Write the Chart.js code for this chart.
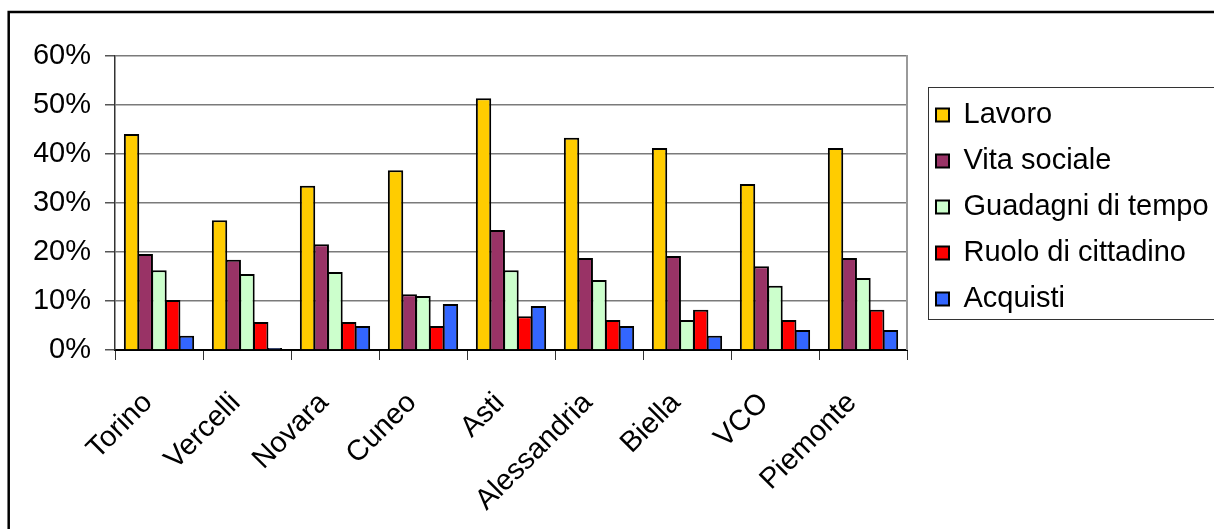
<!DOCTYPE html>
<html lang="it">
<head>
<meta charset="utf-8">
<title>Motivazioni per provincia</title>
<script src="https://cdn.jsdelivr.net/npm/chart.js@4/dist/chart.umd.min.js"></script>
<style>
  html, body { margin: 0; padding: 0; background: #ffffff; }
  #wrap { width: 1214px; height: 529px; }
</style>
</head>
<body>
<div id="wrap"><canvas id="chart" width="1214" height="529"></canvas></div>
<script>
// Province (and regional total) on the category axis
const categories = ['Torino', 'Vercelli', 'Novara', 'Cuneo', 'Asti', 'Alessandria', 'Biella', 'VCO', 'Piemonte'];

// Series names
const seriesNames = ['Lavoro', 'Vita sociale', 'Guadagni di tempo', 'Ruolo di cittadino', 'Acquisti'];

// Shares in percent, one array per series
const lavoro          = [44.1, 26.5, 33.5, 36.7, 51.4, 43.3, 41.2, 33.9, 41.2];
const vitaSociale     = [19.6, 18.4, 21.6, 11.4, 24.5, 18.8, 19.2, 17.1, 18.8];
const guadagniTempo   = [16.3, 15.5, 15.9, 11.0, 16.3, 14.3,  6.1, 13.1, 14.7];
const ruoloCittadino  = [10.2,  5.7,  5.7,  4.9,  6.9,  6.1,  8.2,  6.1,  8.2];
const acquisti        = [ 2.9,  0.4,  4.9,  9.4,  9.0,  4.9,  2.9,  4.1,  4.1];

// Value axis ticks
const yTicks = [0, 10, 20, 30, 40, 50, 60];

const seriesValues = [lavoro, vitaSociale, guadagniTempo, ruoloCittadino, acquisti];
const seriesColors = ['#FFCC00', '#993366', '#CCFFCC', '#FF0000', '#3366FF'];

Chart.defaults.font.family = '"Liberation Sans", Arial, sans-serif';
Chart.defaults.color = '#000000';

// Outer chart frame (top and left edges)
const framePlugin = {
  id: 'frame',
  beforeDraw(chart) {
    const c = chart.ctx;
    c.save();
    c.fillStyle = '#ffffff';
    c.fillRect(0, 0, chart.width, chart.height);
    c.strokeStyle = '#000000';
    c.lineWidth = 2.5;
    c.beginPath();
    c.moveTo(8.7, chart.height + 2);
    c.lineTo(8.7, 12);
    c.lineTo(chart.width + 2, 12);
    c.stroke();
    c.restore();
  }
};

// Plot-area right edge and the border around the legend entries
const bordersPlugin = {
  id: 'borders',
  afterDraw(chart) {
    const c = chart.ctx;
    const area = chart.chartArea;
    c.save();
    c.strokeStyle = '#9a9a9a';
    c.lineWidth = 2;
    c.beginPath();
    c.moveTo(area.right, area.top - 1);
    c.lineTo(area.right, area.bottom);
    c.stroke();

    const lg = chart.legend;
    if (lg && lg.legendHitBoxes && lg.legendHitBoxes.length) {
      const boxes = lg.legendHitBoxes;
      const first = boxes[0];
      const last = boxes[boxes.length - 1];
      const left = Math.round(first.left - 8) + 0.5;
      const top = Math.round(first.top - 14) + 0.5;
      const bottom = Math.round(last.top + last.height + 5) + 0.5;
      c.strokeStyle = '#333333';
      c.lineWidth = 1;
      c.strokeRect(left, top, chart.width + 10 - left, bottom - top);
    }
    c.restore();
  }
};

new Chart(document.getElementById('chart'), {
  type: 'bar',
  data: {
    labels: categories,
    datasets: seriesNames.map((name, i) => ({
      label: name,
      data: seriesValues[i],
      backgroundColor: seriesColors[i],
      borderColor: '#000000',
      borderWidth: 2,
      categoryPercentage: 0.78,
      barPercentage: 1.12
    }))
  },
  options: {
    responsive: false,
    animation: false,
    devicePixelRatio: 1,
    layout: { padding: { left: 34, top: 56, right: 0, bottom: 0 } },
    plugins: {
      tooltip: { enabled: false },
      legend: {
        position: 'right',
        fullSize: false,
        align: 'center',
        // empty title used as a small top spacer for the entries
        title: { display: true, text: '', font: { size: 8, lineHeight: 1 }, padding: 0 },
        labels: {
          font: { size: 29 },
          color: '#000000',
          boxWidth: 13,
          boxHeight: 13,
          padding: 17
        }
      }
    },
    scales: {
      x: {
        offset: true,
        afterFit(scale) { scale.height = 179; },
        grid: {
          offset: true,
          drawOnChartArea: false,
          drawTicks: true,
          tickLength: 10,
          color: '#333333',
          tickColor: '#333333',
          tickWidth: 1
        },
        border: { display: true, color: '#000000', width: 2 },
        ticks: {
          autoSkip: false,
          maxRotation: 45,
          minRotation: 45,
          padding: 26,
          labelOffset: -11,
          font: { size: 29 },
          color: '#000000'
        }
      },
      y: {
        min: 0,
        max: 60,
        afterFit(scale) { scale.width = 81; },
        afterBuildTicks(scale) {
          scale.ticks = yTicks.map(v => ({ value: v }));
        },
        grid: {
          color: ctx => (ctx.tick && ctx.tick.value === 0 ? 'rgba(0,0,0,0)' : '#7a7a7a'),
          lineWidth: 1.5,
          tickLength: 10,
          tickColor: '#555555',
          tickWidth: 1.5
        },
        border: { display: true, color: '#333333', width: 1.5 },
        ticks: {
          padding: 14,
          font: { size: 29 },
          color: '#000000',
          callback: v => v + '%'
        }
      },
      // hidden spacer between the plot area and the legend
      gap: {
        type: 'linear',
        position: 'right',
        display: false,
        afterFit(scale) { scale.width = 12; }
      }
    }
  },
  plugins: [framePlugin, bordersPlugin]
});
</script>
</body>
</html>
